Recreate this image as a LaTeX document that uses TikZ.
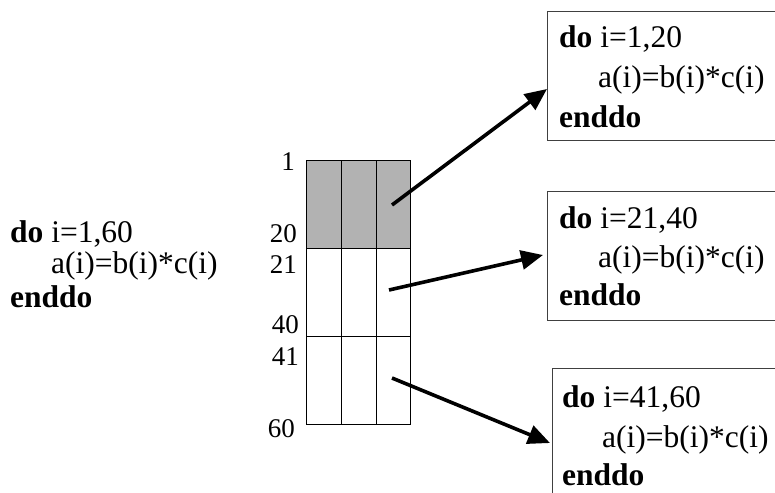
\documentclass[tikz,border=0pt]{standalone}
\usepackage{fontspec}
\setmainfont{Liberation Serif}
\usetikzlibrary{arrows.meta}
\begin{document}
\begin{tikzpicture}[x=1pt,y=-1pt,
  txt/.style={anchor=base west,inner sep=0pt,font=\fontsize{31.5}{32}\selectfont},
  lbl/.style={anchor=base east,inner sep=0pt,font=\fontsize{27}{28}\selectfont},
  frame/.style={draw=black!75,line width=1.2pt,anchor=north west,inner sep=0pt,minimum width=300pt},
  cell/.style={draw=black,line width=1pt},
  arr/.style={line width=3.6pt,-{Triangle[length=22pt,width=19pt]}}]
\useasboundingbox (0,0) rectangle (775,492);
\clip (0,0) rectangle (775,492);
% left loop
\node[txt] (l1) at (10,242) {\textbf{do} i=1,60};
\node[txt] (l2) at (51,273) {a(i)=b(i)*c(i)};
\node[txt] (l3) at (10,307) {\textbf{enddo}};
% grid
\fill[gray!60] (306,160) rectangle (410,248);
\foreach \y in {160,248,336} {
  \draw[cell] (306,\y) rectangle (341,\y+88);
  \draw[cell] (341,\y) rectangle (376,\y+88);
  \draw[cell] (376,\y) rectangle (410,\y+88);
}
\node[lbl] (n1) at (295,170) {1};
\node[lbl] (n20) at (297,242) {20};
\node[lbl] (n21) at (297,273) {21};
\node[lbl] (n40) at (299,333) {40};
\node[lbl] (n41) at (299,365) {41};
\node[lbl] (n60) at (295,437) {60};
% boxes
\node[frame,minimum height=129pt] (b1) at (547,11) {};
\node[frame,minimum height=129pt] (b2) at (547,191) {};
\node[frame,minimum height=160pt] (b3) at (552,368) {};
\node[txt] (b1a) at (559,48) {\textbf{do} i=1,20};
\node[txt] (b1b) at (598,88) {a(i)=b(i)*c(i)};
\node[txt] (b1c) at (559,127) {\textbf{enddo}};
\node[txt] (b2a) at (559,228) {\textbf{do} i=21,40};
\node[txt] (b2b) at (598,267) {a(i)=b(i)*c(i)};
\node[txt] (b2c) at (559,305) {\textbf{enddo}};
\node[txt] (b3a) at (562,407) {\textbf{do} i=41,60};
\node[txt] (b3b) at (602,447) {a(i)=b(i)*c(i)};
\node[txt] (b3c) at (562,485) {\textbf{enddo}};
% arrows
\coordinate (s1) at (392,205);
\coordinate (t1) at (547,89);
\coordinate (s2) at (389,290);
\coordinate (t2) at (543,255);
\coordinate (s3) at (392,378);
\coordinate (t3) at (550,443);
\draw[arr] (s1) -- (t1);
\draw[arr] (s2) -- (t2);
\draw[arr] (s3) -- (t3);
\end{tikzpicture}
\end{document}
